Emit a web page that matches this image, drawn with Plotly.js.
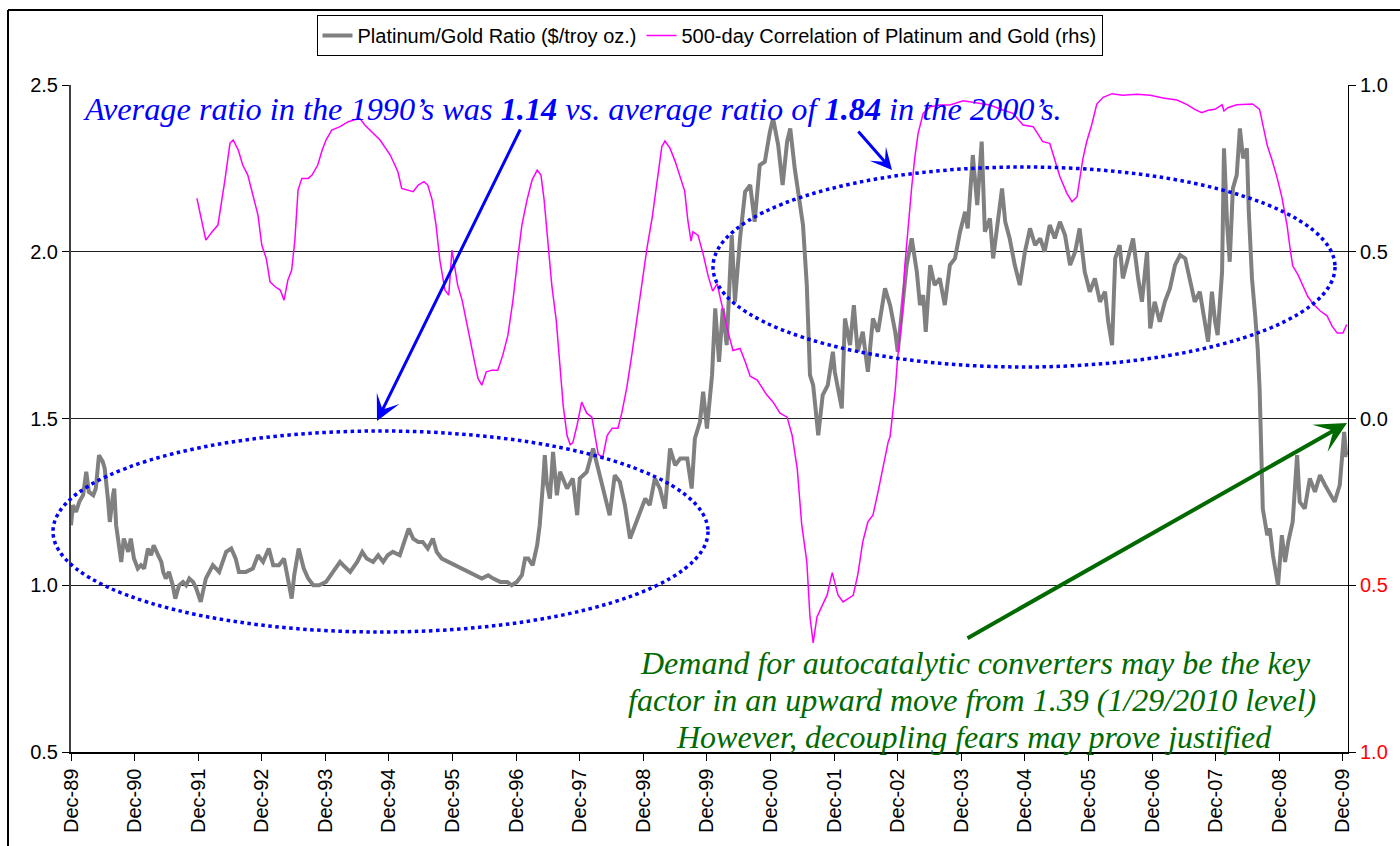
<!DOCTYPE html>
<html><head><meta charset="utf-8">
<script src="https://cdn.plot.ly/plotly-3.0.1.min.js"></script>
<style>html,body{margin:0;padding:0;background:#fff}#chart{width:1400px;height:846px}</style>
</head><body><div id="chart"></div>
<script>
// Platinum/Gold ratio (decimal year, value)
const ratioYears = [
1990.00,1990.03,1990.08,1990.13,1990.19,1990.24,1990.28,1990.35,1990.39,1990.44,1990.50,1990.53,1990.58,1990.61,1990.66,1990.68,1990.71,1990.75,1990.79,1990.83,1990.90,1990.94,1990.99,
1991.05,1991.10,1991.15,1991.21,1991.26,1991.30,1991.37,1991.42,1991.45,1991.49,1991.54,1991.60,1991.64,1991.70,1991.76,1991.81,1991.86,1991.92,1991.97,
1992.01,1992.04,1992.12,1992.23,1992.33,1992.44,1992.52,1992.59,1992.64,1992.75,1992.86,1992.94,
1993.02,1993.11,1993.18,1993.27,1993.35,1993.41,1993.47,1993.51,1993.58,1993.66,1993.73,1993.81,1993.90,
1994.01,1994.12,1994.23,1994.28,1994.39,1994.50,1994.58,1994.65,1994.75,1994.83,1994.91,1994.98,
1995.06,1995.17,1995.25,1995.31,1995.38,1995.46,1995.53,1995.61,1995.69,1995.75,1995.83,1995.93,
1996.04,1996.15,1996.24,1996.35,1996.46,1996.56,1996.64,1996.75,1996.86,1996.93,
1997.01,1997.09,1997.14,1997.19,1997.26,1997.33,1997.37,1997.42,1997.45,1997.48,1997.53,1997.58,1997.64,1997.69,1997.80,1997.89,1997.96,
1998.00,1998.11,1998.21,1998.29,1998.36,1998.47,1998.55,1998.63,1998.71,1998.79,1998.87,1998.95,
1999.03,1999.10,1999.18,1999.26,1999.34,1999.42,1999.50,1999.58,1999.69,1999.76,1999.81,1999.89,1999.94,
2000.00,2000.08,2000.13,2000.19,2000.25,2000.31,2000.39,2000.44,2000.52,2000.60,2000.68,2000.75,2000.83,2000.91,2000.99,
2001.04,2001.12,2001.19,2001.26,2001.31,2001.38,2001.45,2001.51,2001.57,2001.62,2001.67,2001.75,2001.82,2001.90,2001.98,
2002.01,2002.12,2002.17,2002.25,2002.31,2002.37,2002.45,2002.53,2002.61,2002.69,2002.80,2002.88,2002.96,
2003.00,2003.07,2003.14,2003.22,2003.30,2003.35,2003.40,2003.44,2003.51,2003.58,2003.66,2003.74,2003.82,2003.90,2003.98,
2004.06,2004.10,2004.18,2004.25,2004.32,2004.37,2004.45,2004.50,2004.58,2004.64,2004.69,2004.76,2004.84,2004.92,
2005.00,2005.08,2005.16,2005.24,2005.31,2005.39,2005.47,2005.55,2005.63,2005.71,2005.79,2005.86,2005.94,
2006.02,2006.10,2006.18,2006.26,2006.31,2006.37,2006.42,2006.49,2006.54,2006.62,2006.70,2006.78,2006.84,2006.92,2006.97,
2007.04,2007.12,2007.20,2007.28,2007.36,2007.44,2007.52,2007.59,2007.67,2007.75,2007.83,2007.88,2007.94,2007.99,
2008.03,2008.10,2008.13,2008.18,2008.22,2008.27,2008.33,2008.38,2008.43,2008.49,2008.52,2008.57,2008.62,2008.66,2008.69,2008.73,2008.74,2008.81,2008.85,2008.90,2008.96,2008.98,
2009.04,2009.09,2009.14,2009.21,2009.28,2009.32,2009.40,2009.48,2009.56,2009.64,2009.72,2009.80,2009.87,2009.95,
2010.02,2010.05,2010.07
];
const ratioValues = [
1.18,1.24,1.22,1.25,1.27,1.34,1.28,1.27,1.29,1.39,1.37,1.35,1.26,1.19,1.27,1.29,1.18,1.12,1.07,1.14,1.10,1.14,1.08,
1.05,1.06,1.05,1.11,1.09,1.12,1.09,1.07,1.04,1.02,1.04,1.00,0.96,1.00,1.01,1.00,1.02,1.01,0.99,
0.97,0.95,1.02,1.06,1.04,1.10,1.11,1.08,1.04,1.04,1.05,1.09,
1.07,1.11,1.06,1.06,1.08,1.02,0.96,1.03,1.11,1.05,1.02,1.00,1.00,
1.01,1.04,1.07,1.06,1.04,1.07,1.10,1.08,1.07,1.09,1.07,1.09,
1.10,1.09,1.14,1.17,1.14,1.13,1.13,1.11,1.14,1.10,1.08,1.07,
1.06,1.05,1.04,1.03,1.02,1.03,1.02,1.01,1.01,1.00,
1.01,1.03,1.08,1.08,1.06,1.12,1.18,1.30,1.39,1.31,1.26,1.40,1.27,1.34,1.29,1.32,1.21,
1.32,1.34,1.41,1.35,1.29,1.21,1.33,1.31,1.24,1.14,1.18,1.22,
1.26,1.24,1.32,1.29,1.23,1.41,1.36,1.38,1.38,1.29,1.44,1.49,1.58,
1.47,1.63,1.83,1.67,1.83,1.72,2.05,1.85,2.04,2.18,2.20,2.09,2.26,2.27,2.36,
2.40,2.32,2.20,2.33,2.37,2.25,2.15,2.08,1.90,1.63,1.60,1.45,1.57,1.60,1.70,
1.64,1.53,1.80,1.72,1.84,1.70,1.76,1.64,1.80,1.76,1.89,1.84,1.76,
1.70,1.84,1.96,2.04,1.94,1.84,1.87,1.76,1.96,1.90,1.92,1.84,1.96,1.98,2.06,
2.12,2.07,2.29,2.14,2.33,2.06,2.10,1.98,2.10,2.19,2.09,2.04,1.96,1.90,
2.00,2.07,2.02,2.04,2.00,2.08,2.04,2.09,2.05,1.96,2.00,2.07,1.94,
1.88,1.92,1.85,1.88,1.79,1.72,1.98,2.02,1.92,1.98,2.04,1.92,1.85,2.00,1.77,
1.85,1.79,1.85,1.89,1.96,1.99,1.98,1.92,1.85,1.88,1.79,1.73,1.88,1.79,
1.75,1.94,2.31,2.08,1.97,2.19,2.23,2.37,2.28,2.31,2.12,1.92,1.81,1.71,1.59,1.33,1.23,1.15,1.17,1.09,1.03,1.00,
1.15,1.07,1.13,1.19,1.39,1.25,1.23,1.32,1.28,1.33,1.30,1.27,1.25,1.30,
1.46,1.39,1.39
];
// 500-day correlation (decimal year, value, right axis)
const corrYears = [
1991.98,1992.12,1992.22,1992.31,1992.42,1992.50,1992.55,1992.63,1992.70,1992.78,1992.86,1992.94,
1993.00,1993.07,1993.13,1993.21,1993.29,1993.35,1993.41,1993.47,1993.52,1993.57,1993.63,1993.73,1993.79,1993.88,1993.95,
1994.01,1994.10,1994.23,1994.36,1994.47,1994.54,1994.62,1994.73,1994.86,
1995.02,1995.14,1995.20,1995.30,1995.38,1995.46,1995.55,1995.61,1995.68,1995.74,1995.80,1995.88,1995.94,1995.99,
1996.04,1996.08,1996.15,1996.21,1996.27,1996.34,1996.40,1996.46,1996.53,1996.62,1996.71,1996.79,1996.87,1996.95,
1997.03,1997.09,1997.17,1997.25,1997.33,1997.39,1997.44,1997.50,1997.56,1997.63,1997.69,1997.74,1997.80,1997.85,1997.89,1997.96,
1998.03,1998.11,1998.19,1998.24,1998.29,1998.36,1998.43,1998.51,1998.60,1998.66,1998.74,1998.82,1998.90,1998.98,
1999.06,1999.14,1999.21,1999.29,1999.34,1999.42,1999.50,1999.58,1999.65,1999.70,1999.75,1999.78,1999.86,1999.94,
2000.02,2000.09,2000.16,2000.25,2000.33,2000.41,2000.52,2000.60,2000.68,2000.79,2000.86,2000.94,
2001.04,2001.15,2001.26,2001.34,2001.42,2001.49,2001.57,2001.62,2001.67,2001.73,2001.81,2001.89,2001.97,
2002.01,2002.06,2002.14,2002.22,2002.30,2002.37,2002.45,2002.53,2002.61,2002.69,2002.77,2002.85,2002.88,2002.96,
2003.00,2003.07,2003.11,2003.16,2003.22,2003.27,2003.32,2003.40,2003.51,2003.66,2003.82,
2004.03,2004.25,2004.45,2004.65,2004.81,2004.97,
2005.13,2005.28,2005.39,2005.47,2005.55,2005.66,2005.74,2005.82,2005.91,2005.97,
2006.05,2006.13,2006.23,2006.37,2006.54,2006.76,2006.97,
2007.17,2007.39,2007.55,2007.67,2007.78,2007.88,2007.99,
2008.10,2008.13,2008.19,2008.33,2008.49,2008.58,2008.69,2008.74,2008.81,2008.88,2008.96,
2009.04,2009.12,2009.17,2009.21,2009.29,2009.37,2009.45,2009.53,2009.64,2009.75,2009.83,2009.91,
2010.00,2010.06
];
const corrValues = [
0.66,0.535,0.56,0.58,0.715,0.826,0.835,0.805,0.76,0.73,0.67,0.61,
0.52,0.48,0.41,0.395,0.385,0.355,0.415,0.445,0.535,0.685,0.72,0.72,0.73,0.76,0.805,
0.835,0.865,0.875,0.89,0.895,0.90,0.88,0.86,0.835,
0.79,0.74,0.69,0.685,0.68,0.70,0.71,0.70,0.655,0.58,0.475,0.385,0.37,0.505,
0.44,0.40,0.355,0.295,0.235,0.175,0.12,0.10,0.14,0.145,0.145,0.19,0.25,0.355,
0.49,0.58,0.655,0.715,0.745,0.73,0.655,0.535,0.40,0.295,0.149,0.038,-0.051,-0.079,-0.073,-0.018,
0.049,0.016,0.004,-0.051,-0.107,-0.118,-0.051,-0.029,-0.029,0.016,0.093,0.193,0.304,0.415,
0.515,0.604,0.704,0.815,0.832,0.81,0.771,0.726,0.682,0.593,0.532,0.56,0.549,0.493,
0.426,0.382,0.404,0.327,0.26,0.204,0.21,0.171,0.127,0.115,0.093,0.071,
0.049,0.016,0.004,-0.051,-0.151,-0.318,-0.429,-0.595,-0.673,-0.595,-0.562,-0.529,-0.462,
-0.495,-0.529,-0.55,-0.54,-0.53,-0.47,-0.37,-0.31,-0.29,-0.22,-0.14,-0.07,-0.054,0.085,
0.185,0.315,0.455,0.575,0.695,0.785,0.855,0.915,0.935,0.94,0.94,
0.953,0.945,0.94,0.925,0.915,0.88,
0.875,0.83,0.825,0.775,0.725,0.675,0.65,0.665,0.778,0.829,
0.881,0.943,0.963,0.974,0.969,0.972,0.969,
0.961,0.955,0.941,0.927,0.917,0.924,0.927,
0.941,0.922,0.932,0.941,0.941,0.943,0.927,0.881,0.819,0.778,0.726,
0.664,0.581,0.509,0.458,0.432,0.396,0.365,0.344,0.323,0.308,0.277,0.256,
0.256,0.282
];
const tickYears = [1990,1991,1992,1993,1994,1995,1996,1997,1998,1999,2000,2001,2002,2003,2004,2005,2006,2007,2008,2009,2010];
const tickLabels = ['Dec-89','Dec-90','Dec-91','Dec-92','Dec-93','Dec-94','Dec-95','Dec-96','Dec-97','Dec-98','Dec-99','Dec-00','Dec-01','Dec-02','Dec-03','Dec-04','Dec-05','Dec-06','Dec-07','Dec-08','Dec-09'];
const corrTickVals = [-1,-0.5,0,0.5,1];
const corrTickText = ['<span style="color:#ff0000">1.0</span>','<span style="color:#ff0000">0.5</span>','0.0','0.5','1.0'];
const seriesNames = ['Platinum/Gold Ratio ($/troy oz.)','500-day Correlation of Platinum and Gold (rhs)'];

// plot-area pixel frame helpers (for annotations only)
const L=71,R=1348,T=85,B=752;
const px = x => (x-L)/(R-L);
const py = y => (B-y)/(B-T);

const sans = 'Liberation Sans, Arial, sans-serif';
const serif = 'Liberation Serif, Times New Roman, serif';
const blue = '#0000ff', green = '#006a00';

const traces = [
  {x:ratioYears, y:ratioValues, type:'scatter', mode:'lines', name:seriesNames[0],
   line:{color:'#808080', width:4}, yaxis:'y'},
  {x:corrYears, y:corrValues, type:'scatter', mode:'lines', name:seriesNames[1],
   line:{color:'#ff00ff', width:1.5}, yaxis:'y2'}
];

const layout = {
  width:1400, height:846,
  margin:{l:L, r:1400-R, t:T, b:846-B, pad:0},
  paper_bgcolor:'#ffffff', plot_bgcolor:'#ffffff',
  font:{family:sans, color:'#000', size:20},
  showlegend:true,
  legend:{orientation:'h', x:0.5, xanchor:'center', y:py(15), yanchor:'top',
    bordercolor:'#000', borderwidth:1, bgcolor:'#fff', font:{family:sans, size:20, color:'#000'}},
  xaxis:{range:[1990,2010.08], tickmode:'array', tickvals:tickYears, ticktext:tickLabels,
    tickangle:-90, ticks:'outside', ticklen:7, tickcolor:'#000', showline:true, linecolor:'#000',
    linewidth:1.5, showgrid:false, zeroline:false, tickfont:{family:sans, size:20, color:'#000'}},
  yaxis:{range:[0.5,2.5], tick0:0.5, dtick:0.5, tickformat:'.1f', ticks:'outside', ticklen:7,
    tickcolor:'#000', showline:true, linecolor:'#404040', linewidth:2, showgrid:true,
    gridcolor:'#222', gridwidth:1, zeroline:false, tickfont:{family:sans, size:20, color:'#000'}},
  yaxis2:{overlaying:'y', side:'right', range:[-1,1], tickmode:'array', tickvals:corrTickVals,
    ticktext:corrTickText, ticks:'outside', ticklen:7, tickcolor:'#000', showline:true,
    linecolor:'#000', linewidth:1, showgrid:false, zeroline:false,
    tickfont:{family:sans, size:20, color:'#000'}},
  shapes:[
    {type:'circle', xref:'paper', yref:'paper', x0:px(53), x1:px(708), y0:py(632), y1:py(431),
     line:{color:blue, width:3.5, dash:'3.5px,3.5px'}},
    {type:'circle', xref:'paper', yref:'paper', x0:px(713), x1:px(1335), y0:py(367), y1:py(167),
     line:{color:blue, width:3.5, dash:'3.5px,3.5px'}},
    {type:'line', xref:'paper', yref:'paper', x0:px(8), x1:px(1402), y0:py(10), y1:py(10),
     line:{color:'#000', width:2}},
    {type:'line', xref:'paper', yref:'paper', x0:px(8), x1:px(8), y0:py(10), y1:py(848),
     line:{color:'#000', width:2}}
  ],
  annotations:[
    {xref:'paper', yref:'paper', x:px(572), y:py(109), xanchor:'center', yanchor:'middle', showarrow:false,
     text:'<i>Average ratio in the 1990’s was <b>1.14</b> vs. average ratio of <b>1.84</b> in the 2000’s.</i>',
     font:{family:serif, size:32.3, color:blue}},
    {xref:'paper', yref:'paper', x:px(975), y:py(663), xanchor:'center', yanchor:'middle', showarrow:false,
     text:'<i>Demand for autocatalytic converters may be the key</i>', font:{family:serif, size:32, color:green}},
    {xref:'paper', yref:'paper', x:px(972), y:py(700), xanchor:'center', yanchor:'middle', showarrow:false,
     text:'<i>factor in an upward move from 1.39 (1/29/2010 level)</i>', font:{family:serif, size:32, color:green}},
    {xref:'paper', yref:'paper', x:px(974), y:py(737), xanchor:'center', yanchor:'middle', showarrow:false,
     text:'<i>However, decoupling fears may prove justified</i>', font:{family:serif, size:32, color:green}},
    {xref:'paper', yref:'paper', x:px(377), y:py(421), ax:144, ay:-293, text:'', showarrow:true,
     arrowhead:3, arrowsize:1.4, arrowwidth:3, arrowcolor:blue, standoff:0},
    {xref:'paper', yref:'paper', x:px(892), y:py(170), ax:-35, ay:-40, text:'', showarrow:true,
     arrowhead:3, arrowsize:1.2, arrowwidth:3, arrowcolor:blue, standoff:0},
    {xref:'paper', yref:'paper', x:px(1347), y:py(423), ax:-381, ay:216, text:'', showarrow:true,
     arrowhead:3, arrowsize:1.3, arrowwidth:4, arrowcolor:green, standoff:0}
  ]
};

Plotly.newPlot('chart', traces, layout, {displayModeBar:false, staticPlot:true});
</script>
</body></html>
